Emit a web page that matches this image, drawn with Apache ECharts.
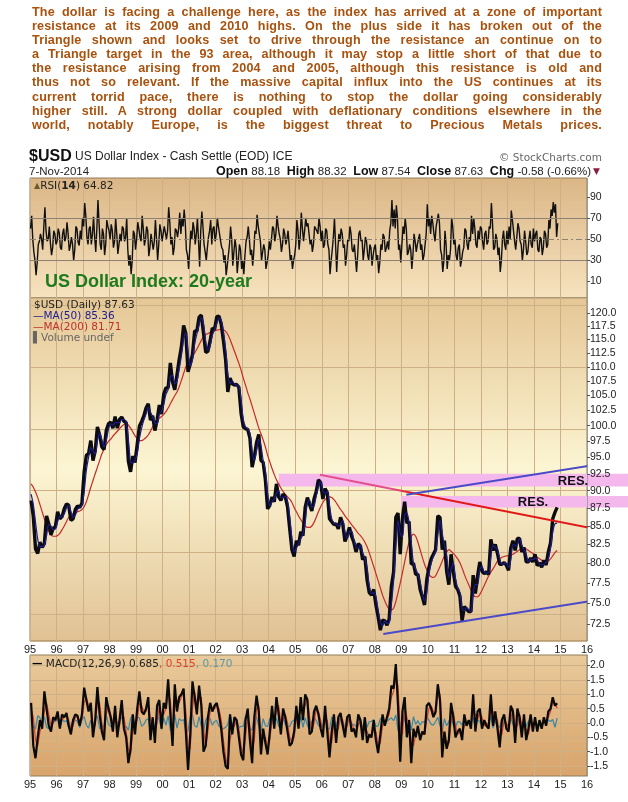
<!DOCTYPE html>
<html><head><meta charset="utf-8">
<script src="https://cdn.jsdelivr.net/npm/echarts@6/dist/echarts.min.js"></script>
<style>
html,body{margin:0;padding:0;background:#fff;}
#wrap{position:relative;width:628px;height:802px;overflow:hidden;}
#chart{position:absolute;left:0;top:0;width:628px;height:802px;}
#para{position:absolute;left:32px;top:5px;width:570px;font-family:"Liberation Sans",Arial,sans-serif;font-weight:bold;font-size:12.6px;color:#a8520e;z-index:2;letter-spacing:0.15px;}
#para div{text-align:justify;text-align-last:justify;line-height:14.1px;height:14.1px;overflow:hidden;}
</style></head>
<body><div id="wrap"><div id="chart"></div><div id="para"></div></div>
<script>
// ---------- text ----------
const paragraphLines = [
  "The dollar is facing a challenge here, as the index has arrived at a zone of important",
  "resistance at its 2009 and 2010 highs. On the plus side it has broken out of the",
  "Triangle shown and looks set to drive through the resistance an continue on to",
  "a Triangle target in the 93 area, although it may stop a little short of that due to",
  "the resistance arising from 2004 and 2005, although this resistance is old and",
  "thus not so relevant. If the massive capital influx into the US continues at its",
  "current torrid pace, there is nothing to stop the dollar going considerably",
  "higher still. A strong dollar coupled with deflationary conditions elsewhere in the",
  "world, notably Europe, is the biggest threat to Precious Metals prices."
];

// ---------- data (monthly, Jan 1995 .. Nov 2014) ----------
const startYear = 1995;
const usdClose = [
 88.6,86.3,81.9,81.3,82.8,82.1,82.6,86.4,85.3,83.8,84.7,84.9,
 87.0,86.0,86.3,87.4,88.1,87.9,85.8,86.0,87.3,87.8,87.6,88.2,
 92.8,95.3,95.6,97.6,94.5,96.0,99.8,98.5,96.6,96.2,99.2,100.3,
 100.6,99.6,101.5,99.6,101.0,101.4,100.7,100.5,94.4,92.8,95.2,94.2,
 97.0,99.9,100.7,101.6,102.9,103.6,100.9,101.6,99.2,100.9,103.4,101.9,
 105.2,106.3,106.3,110.7,107.3,106.0,108.6,111.3,113.6,117.6,116.1,109.1,
 110.5,112.2,116.6,116.5,119.2,119.6,116.2,112.6,112.8,114.7,117.1,116.8,
 119.3,119.4,117.9,114.8,111.3,105.6,108.0,107.0,106.8,106.9,106.4,102.0,
 99.8,99.5,99.4,98.0,93.5,95.1,97.3,98.6,94.5,94.2,91.6,87.4,
 87.9,89.1,88.4,91.0,89.1,88.6,89.5,89.1,87.7,84.6,81.8,80.9,
 83.0,82.4,84.2,83.7,87.6,89.0,88.0,87.1,88.8,89.9,91.6,91.2,
 88.8,90.3,89.7,86.0,85.6,85.2,85.3,84.6,86.2,85.3,82.9,83.7,
 84.8,83.6,82.8,81.5,82.6,82.3,80.5,80.9,77.9,76.3,76.0,76.7,
 74.8,73.4,71.8,73.0,72.9,72.4,73.1,77.1,78.9,86.2,86.8,81.2,
 86.0,88.4,85.4,85.6,79.9,80.0,78.6,78.6,76.7,75.8,74.8,77.9,
 79.5,80.6,81.2,81.8,86.4,86.2,81.8,83.0,79.0,77.3,81.2,79.0,
 77.1,76.7,75.9,72.9,74.6,74.3,74.0,74.0,78.5,76.2,78.4,80.2,
 79.0,78.7,78.9,78.6,83.2,81.7,82.5,81.3,79.9,79.9,80.1,79.8,
 79.1,82.0,83.0,81.7,83.3,83.3,81.5,82.1,80.2,80.2,80.7,80.2,
 81.2,79.7,80.1,79.5,80.4,79.8,81.5,82.7,86.0,86.9,87.6
];
const ma50 = [
 89.5,88.0,85.5,83.2,82.2,82.2,82.4,83.7,85.2,85.0,84.5,84.6,
 85.6,86.3,86.3,86.7,87.5,87.9,87.0,86.2,86.5,87.3,87.6,87.9,
 89.8,93.0,95.0,96.5,96.0,95.5,97.6,98.8,97.8,96.6,97.6,99.4,
 100.3,100.1,100.5,100.5,100.5,101.0,101.0,100.6,97.8,94.3,94.1,94.6,
 95.5,97.9,99.6,100.9,101.9,103.0,102.2,101.5,100.5,100.3,101.8,102.4,
 103.5,105.2,106.0,108.2,108.5,107.0,107.5,109.6,112.0,115.0,116.2,112.8,
 110.2,111.2,114.2,116.0,117.8,119.1,117.9,114.6,113.0,113.8,115.8,116.8,
 118.0,119.0,118.6,116.5,113.2,108.8,107.0,107.5,107.0,106.8,106.6,104.3,
 101.0,99.8,99.5,98.8,96.0,94.5,96.0,97.8,96.8,94.5,93.0,89.6,
 87.8,88.4,88.8,89.6,90.0,89.0,89.0,89.2,88.5,86.3,83.3,81.5,
 82.0,82.6,83.3,83.9,85.5,88.2,88.6,87.6,87.8,89.2,90.6,91.3,
 90.0,89.6,89.9,87.9,86.0,85.4,85.3,85.0,85.3,85.7,84.2,83.3,
 84.2,84.3,83.2,82.2,82.0,82.4,81.4,80.7,79.5,77.2,76.2,76.3,
 75.8,74.2,72.8,72.3,72.9,72.6,72.7,74.9,77.8,82.2,85.7,84.0,
 83.5,86.5,86.8,85.5,82.8,80.0,79.3,78.6,77.7,76.2,75.3,76.3,
 78.6,80.0,80.9,81.5,83.8,85.8,84.0,82.4,81.0,78.2,79.2,80.1,
 78.1,76.9,76.3,74.4,74.1,74.5,74.2,74.0,76.2,77.3,77.3,79.2,
 79.6,78.9,78.8,78.8,80.9,82.4,82.1,81.9,80.6,79.9,80.0,80.0,
 79.5,80.5,82.5,82.3,82.5,83.3,82.4,81.8,81.2,80.2,80.5,80.5,
 80.7,80.5,79.9,79.8,79.9,80.1,80.6,82.0,84.2,85.3,85.4
];
const ma200 = [
 91.0,90.5,89.8,89.0,88.0,87.0,86.0,85.0,84.3,83.8,83.6,83.6,
 83.7,84.0,84.5,85.0,85.6,86.2,86.5,86.7,86.8,87.0,87.1,87.3,
 87.7,88.4,89.4,90.5,91.5,92.5,93.5,94.5,95.5,96.3,97.0,97.5,
 97.8,98.3,98.7,99.1,99.5,99.9,100.2,100.4,100.1,99.6,99.0,98.4,
 97.9,97.6,97.6,97.8,98.1,98.5,99.1,99.8,100.4,100.8,101.2,101.5,
 101.8,102.3,102.9,103.6,104.3,105.0,105.6,106.5,107.6,108.8,110.0,110.8,
 111.4,111.9,112.5,113.2,114.0,114.8,115.5,115.9,116.1,116.3,116.5,116.6,
 116.7,116.8,116.9,116.8,116.5,115.9,115.0,113.9,112.8,111.7,110.6,109.4,
 108.0,106.8,105.5,104.4,103.2,102.0,100.8,99.6,98.7,97.7,96.6,95.3,
 94.3,93.3,92.4,91.6,91.0,90.4,89.9,89.5,89.1,88.8,88.3,87.6,
 87.0,86.4,85.9,85.4,85.0,84.8,84.8,85.0,85.5,86.2,87.0,87.7,
 88.3,88.7,89.0,89.1,89.0,88.7,88.3,87.8,87.3,86.9,86.4,86.0,
 85.6,85.2,84.8,84.4,84.0,83.7,83.3,82.8,82.2,81.4,80.5,79.6,
 78.7,77.8,76.9,76.0,75.3,74.7,74.3,74.2,74.4,75.2,76.3,77.5,
 78.8,80.2,81.6,82.8,83.6,83.9,83.6,82.8,81.8,80.8,79.9,79.2,
 78.6,78.3,78.2,78.4,79.0,79.6,80.3,81.0,81.5,81.8,81.6,81.3,
 81.0,80.6,80.1,79.4,78.6,77.9,77.3,76.6,76.1,75.8,75.8,76.1,
 76.6,77.2,77.8,78.4,78.9,79.3,79.8,80.3,80.6,80.8,80.9,81.0,
 81.0,81.1,81.2,81.4,81.6,81.8,81.9,82.0,81.9,81.7,81.5,81.3,
 81.0,80.8,80.6,80.4,80.3,80.2,80.3,80.6,81.0,81.4,81.7
];
// RSI sampled twice a month: early-month and late-month readings
const rsiEarly = [
 60,50,30,28,48,50,62,58,50,46,42,55,
 48,56,40,60,52,55,44,45,40,60,44,50,
 62,72,45,62,55,52,60,65,40,55,45,62,
 50,58,48,55,45,48,60,52,40,35,30,55,
 50,60,48,60,50,58,42,55,48,50,45,58,
 48,62,58,66,52,42,58,60,55,62,65,35,
 40,50,60,55,48,58,62,38,42,58,45,62,
 55,62,48,40,35,25,45,50,38,42,30,40,
 30,35,52,50,40,38,55,62,48,38,40,28,
 48,50,60,55,62,50,45,55,50,45,35,30,
 45,58,52,60,58,62,55,50,45,60,55,62,
 58,45,58,40,30,52,45,40,48,55,45,35,
 48,55,38,45,35,58,50,40,48,30,42,35,
 45,35,28,40,52,42,40,65,62,60,70,45,
 45,55,60,38,40,35,48,45,55,45,35,55,
 62,55,65,48,68,65,35,30,45,35,40,62,
 50,30,45,30,42,58,40,48,55,60,42,50,
 60,40,58,48,60,65,42,50,42,30,58,40,
 45,50,68,48,52,60,45,40,48,38,58,42,
 48,58,38,50,42,55,45,60,72,75,52
];
const rsiLate = [
 72,38,16,45,55,40,80,48,62,35,58,45,
 60,42,55,48,66,39,52,30,62,47,58,70,
 84,52,60,45,71,38,87,45,60,35,68,58,
 64,42,70,36,55,62,48,70,25,17,58,40,
 66,52,72,44,62,34,55,40,68,30,64,48,
 62,50,80,45,35,60,52,75,70,78,40,22,
 58,66,45,70,24,76,45,30,52,68,60,48,
 70,55,42,28,16,35,62,25,50,18,45,22,
 17,48,62,35,25,58,73,55,30,45,22,35,
 40,62,48,72,55,38,60,45,58,30,22,35,
 68,40,75,48,70,65,45,38,62,58,70,48,
 42,60,45,17,40,70,19,55,60,42,25,50,
 62,40,45,19,55,48,30,52,35,45,25,42,
 30,18,45,55,38,48,58,87,78,82,40,28,
 62,70,35,45,22,55,38,50,40,30,45,83,
 70,72,55,62,74,40,19,58,22,30,70,45,
 35,42,24,38,60,45,52,72,70,45,58,62,
 48,55,45,62,84,40,55,35,19,50,45,58,
 62,77,58,40,65,48,30,58,35,50,45,60,
 55,40,52,35,58,42,68,78,85,83,65
];
const macdLine = [
 0.70,-0.8,-1.23,-0.5,0.1,-0.2,1.1,0.5,-0.1,-0.3,0.2,0.1,
 0.4,-0.2,0.3,0.2,0.35,-0.1,-0.4,0.1,0.3,0.25,-0.1,0.3,
 1.23,0.8,0.4,0.7,-0.5,0.1,1.25,0.3,-0.3,-0.6,0.9,0.5,
 0.2,-0.3,0.6,-0.5,0.1,0.8,-0.2,-0.5,-1.4,-0.9,0.3,-0.4,
 0.5,1.1,0.4,0.3,0.5,0.9,-0.6,0.2,-0.7,0.6,0.8,-0.2,
 0.7,0.5,1.52,0.3,-0.8,1.35,0.4,0.9,1.0,1.2,-0.3,-1.64,
 -0.4,1.45,0.9,0.3,1.3,0.6,-1.0,-0.8,0.2,0.7,0.4,0.6,
 0.7,0.3,-0.2,-1.0,-1.5,-1.6,0.3,-0.4,0.2,0.1,-0.5,-1.1,
 -1.3,0.1,0.5,-0.6,-1.4,0.2,0.95,0.4,-1.1,-0.2,-0.7,-1.1,
 -0.3,0.6,-0.2,0.9,0.3,-0.4,0.5,0.2,-0.3,-0.8,-0.7,-0.3,
 0.6,-0.2,0.9,0.1,1.0,0.8,-0.4,-0.3,0.4,0.6,0.3,-0.2,
 -0.5,0.6,-0.3,-1.2,-0.3,0.3,-0.7,0.2,0.35,-0.1,-0.5,0.2,
 0.3,-0.3,-0.2,-0.5,0.3,0.1,-0.6,0.2,-0.7,-0.4,-0.5,0.1,
 -0.6,-1.05,-0.4,0.3,-0.1,0.2,0.5,1.3,1.2,2.05,0.6,-1.35,
 0.4,0.9,-0.5,0.1,-1.4,-0.2,-0.5,-0.1,-0.6,-0.3,-0.4,0.6,
 0.7,0.5,0.2,0.4,1.35,0.8,-1.2,-0.3,-0.9,-0.6,0.7,0.2,
 -0.5,-0.3,-0.2,-0.6,0.3,-0.1,0.1,-0.2,1.0,-0.3,0.4,0.5,
 -0.2,0.1,-0.1,-0.2,1.0,-0.1,0.4,-0.2,-0.85,0.1,0.3,-0.2,
 -0.3,0.6,0.4,-0.7,0.5,0.2,-0.5,0.3,-0.6,-0.2,0.3,-0.3,
 0.2,-0.3,0.1,-0.2,0.2,-0.1,0.4,0.5,0.9,0.6,0.685
];
const macdSignal = [
 0.5,0.2,-0.6,-0.8,-0.3,-0.1,0.4,0.7,0.3,-0.1,0.0,0.1,
 0.2,0.1,0.1,0.2,0.3,0.1,-0.2,-0.1,0.2,0.2,0.1,0.1,
 0.7,0.9,0.6,0.6,0.0,-0.1,0.7,0.7,0.0,-0.4,0.3,0.6,
 0.3,0.0,0.2,0.0,-0.1,0.4,0.2,-0.3,-0.9,-1.1,-0.3,-0.1,
 0.1,0.7,0.6,0.4,0.4,0.7,0.1,0.0,-0.3,0.0,0.6,0.3,
 0.3,0.5,1.0,0.8,-0.2,0.5,0.8,0.7,0.9,1.1,0.4,-0.9,
 -0.9,0.5,1.1,0.6,0.8,0.9,-0.2,-0.8,-0.3,0.4,0.5,0.5,
 0.6,0.5,0.1,-0.6,-1.2,-1.5,-0.6,-0.2,-0.1,0.1,-0.2,-0.8,
 -1.1,-0.5,0.2,-0.1,-0.9,-0.6,0.5,0.6,-0.4,-0.5,-0.5,-0.9,
 -0.6,0.1,0.1,0.4,0.6,0.0,0.1,0.3,0.0,-0.5,-0.7,-0.5,
 0.1,0.2,0.4,0.5,0.6,0.9,0.2,-0.3,0.0,0.5,0.4,0.1,
 -0.3,0.1,0.1,-0.7,-0.7,0.0,-0.3,-0.2,0.2,0.1,-0.3,-0.1,
 0.2,0.0,-0.2,-0.3,-0.1,0.1,-0.2,-0.2,-0.3,-0.5,-0.5,-0.2,
 -0.3,-0.8,-0.7,-0.1,0.1,0.1,0.3,0.9,1.1,1.6,1.3,-0.3,
 -0.4,0.6,0.2,-0.1,-0.7,-0.8,-0.4,-0.3,-0.4,-0.4,-0.4,0.1,
 0.5,0.6,0.4,0.3,0.9,1.0,-0.2,-0.7,-0.6,-0.7,0.0,0.4,
 -0.1,-0.4,-0.3,-0.4,-0.1,0.0,0.0,-0.1,0.4,0.3,0.1,0.4,
 0.2,-0.1,0.0,-0.1,0.4,0.4,0.2,0.1,-0.5,-0.4,0.1,0.0,
 -0.2,0.1,0.5,-0.1,-0.1,0.3,-0.1,-0.1,-0.2,-0.4,0.0,0.0,
 0.0,-0.1,0.0,-0.1,0.0,0.0,0.2,0.4,0.7,0.7,0.515
];
const macdHist = [
 0.12,-0.15,-0.2,0.25,0.18,-0.1,0.22,-0.15,-0.2,-0.12,0.15,0.05,
 0.14,-0.18,0.1,0.05,0.08,-0.15,-0.12,0.15,0.1,0.04,-0.16,0.12,
 0.22,-0.08,-0.18,0.1,-0.25,0.15,0.25,-0.2,-0.15,-0.1,0.28,-0.05,
 -0.12,-0.15,0.2,-0.22,0.12,0.2,-0.18,-0.12,-0.25,0.15,0.28,-0.15,
 0.2,0.18,-0.12,-0.05,0.1,0.15,-0.3,0.12,-0.2,0.28,0.12,-0.22,
 0.18,-0.08,0.25,-0.25,-0.3,0.3,-0.18,0.15,0.08,0.12,-0.3,-0.28,
 0.22,0.3,-0.1,-0.15,0.22,-0.12,-0.3,0.1,0.22,0.15,-0.08,0.05,
 0.08,-0.12,-0.15,-0.2,-0.15,-0.05,0.3,-0.1,0.15,0.05,-0.15,-0.12,
 -0.12,0.25,0.15,-0.2,-0.25,0.3,0.2,-0.1,-0.3,0.15,-0.1,-0.12,
 0.15,0.22,-0.15,0.18,-0.12,-0.18,0.2,-0.05,-0.15,-0.12,0.05,0.1,
 0.25,-0.18,0.22,-0.15,0.18,-0.08,-0.25,0.05,0.2,0.08,-0.08,-0.15,
 -0.1,0.22,-0.18,-0.22,0.2,0.15,-0.15,0.18,0.1,-0.12,-0.1,0.12,
 0.1,-0.1,-0.05,-0.12,0.18,-0.05,-0.15,0.18,-0.15,0.05,0.05,0.12,
 -0.12,-0.1,0.15,0.2,-0.08,0.06,0.12,0.18,0.08,0.28,-0.25,-0.3,
 0.3,0.15,-0.25,0.12,-0.25,0.22,-0.05,0.08,-0.08,0.05,0.02,0.2,
 0.1,-0.05,-0.08,0.05,0.2,-0.1,-0.3,0.15,-0.1,0.05,0.25,-0.08,
 -0.15,0.05,0.04,-0.08,0.15,-0.05,0.04,-0.04,0.2,-0.18,0.1,0.05,
 -0.12,0.08,-0.04,-0.05,0.22,-0.18,0.08,-0.1,-0.15,0.15,0.08,-0.08,
 -0.05,0.18,-0.04,-0.22,0.2,-0.05,-0.15,0.12,-0.12,0.06,0.1,-0.1,
 0.08,-0.08,0.05,-0.04,0.08,-0.05,0.1,0.05,0.12,-0.15,0.17
];
// axis ticks
const priceTicks = [72.5,75,77.5,80,82.5,85,87.5,90,92.5,95,97.5,100,102.5,105,107.5,110,112.5,115,117.5,120];
const rsiTicks = [10,30,50,70,90];
const macdTicks = [-1.5,-1,-0.5,0,0.5,1,1.5,2];
// analyst annotations (year, price)
const resZones = [[2004.38, 90.6, 92.5], [2008.99, 87.6, 89.25]];
const annotationEnd = 2017.6;
const triangleTop = [[2005.93, 92.35], [2017.6, 83.67]];
const channelTop = [[2009.19, 89.4], [2017.6, 94.69]];
const channelBottom = [[2008.32, 71.36], [2017.6, 76.03]];

// ---------- paragraph ----------
const para = document.getElementById('para');
paragraphLines.forEach(t => {
  const d = document.createElement('div');
  d.textContent = t;
  para.appendChild(d);
  d.style.whiteSpace = 'nowrap';
  let fs = 12.6;
  while (d.scrollWidth > 570 && fs > 10) { fs -= 0.1; d.style.fontSize = fs + 'px'; }
  d.style.whiteSpace = 'normal';
});

// ---------- chart ----------
const dates = usdClose.map((_, i) => startYear + (i + 0.5) / 12);
const L = Math.log;
const pair = (arr, f) => arr.map((v, i) => [dates[i], f ? f(v) : v]);
const rsiData = [];
rsiEarly.forEach((v, i) => {
  rsiData.push([startYear + (i + 0.25) / 12, v]);
  rsiData.push([startYear + (i + 0.75) / 12, rsiLate[i]]);
});

const FONT = '"Liberation Sans", Arial, sans-serif';
const gridCol = '#cdb085';
const grids = [
  {left: 30, right: 41, top: 178, height: 120},
  {left: 30, right: 41, top: 298, height: 343},
  {left: 30, right: 41, top: 655, height: 121}
];
const bgs = [
  {type:'linear',x:0,y:0,x2:0,y2:1,colorStops:[{offset:0,color:'#dbb686'},{offset:1,color:'#f6e3bf'}]},
  {type:'linear',x:0,y:0,x2:0,y2:1,colorStops:[{offset:0,color:'#e5c796'},{offset:0.5,color:'#fcf5d3'},{offset:1,color:'#e0c193'}]},
  {type:'linear',x:0,y:0,x2:0,y2:1,colorStops:[{offset:0,color:'#e9ca9b'},{offset:1,color:'#d8a46b'}]}
];
grids.forEach((g, i) => { g.show = true; g.backgroundColor = bgs[i]; g.borderColor = '#8f7c5c'; g.borderWidth = 1; });

function xAxis(gi, showLabel) {
  return {
    type: 'value', gridIndex: gi, min: 1995, max: 2016, interval: 1,
    axisLine: {show: false}, axisTick: {show: false},
    axisLabel: {show: showLabel, formatter: v => String(v).slice(2), fontFamily: FONT, fontSize: 11, color: '#222', margin: 3},
    splitLine: {show: true, lineStyle: {color: gridCol, width: 1}}
  };
}
function yAxis(gi, min, max, ticks, fmt, opts) {
  return Object.assign({
    type: 'value', gridIndex: gi, position: 'right', min: min, max: max,
    axisLine: {show: true, lineStyle: {color: '#999', type: 'dotted'}},
    axisTick: {show: true, length: 3, customValues: ticks, lineStyle: {color: '#555'}},
    axisLabel: {show: true, customValues: ticks, formatter: fmt, fontFamily: FONT, fontSize: 10.5, color: '#222', margin: 3},
    splitLine: {show: false}
  }, opts || {});
}
const priceTicksL = priceTicks.map(v => L(v));
const yMinP = L(70.56), yMaxP = L(122.96);

const option = {
  animation: false,
  grid: grids,
  xAxis: [xAxis(0, false), xAxis(1, true), xAxis(2, true)],
  yAxis: [
    yAxis(0, -5.5, 107.7, rsiTicks, v => String(v)),
    yAxis(1, yMinP, yMaxP, priceTicksL, v => '', {axisLine:{show:false}, axisTick:{show:false}, axisLabel:{show:false, customValues: priceTicksL},
      splitLine: {show: true, lineStyle: {color: gridCol, width: 1}}}),
    yAxis(2, -1.85, 2.37, macdTicks, v => v.toFixed(1), {splitLine: {show: true, lineStyle: {color: gridCol}}}),
    yAxis(1, yMinP, yMaxP, priceTicksL, v => Math.exp(v).toFixed(1), {z: 10})
  ],
  series: [
    {type: 'line', xAxisIndex: 0, yAxisIndex: 0, data: rsiData, symbol: 'none',
      lineStyle: {color: '#111', width: 1.4}, z: 3,
      markLine: {silent: true, symbol: 'none', label: {show: false}, animation: false,
        data: [
          {yAxis: 70, lineStyle: {color: '#8c8172', width: 1.2, type: 'solid'}},
          {yAxis: 30, lineStyle: {color: '#8c8172', width: 1.2, type: 'solid'}},
          {yAxis: 50, lineStyle: {color: '#8c8172', width: 1, type: [6, 3, 2, 3]}}
        ]}},
    {type: 'custom', xAxisIndex: 1, yAxisIndex: 1, clip: false, z: 1,
      data: resZones.map(z => [z[0], annotationEnd, L(z[1]), L(z[2])]),
      renderItem: (params, api) => {
        const p0 = api.coord([api.value(0), api.value(3)]);
        const p1 = api.coord([api.value(1), api.value(2)]);
        return {type: 'rect', shape: {x: p0[0], y: p0[1], width: p1[0] - p0[0], height: p1[1] - p0[1]},
          style: {fill: '#f4b8ec'}};
      }},
    {type: 'line', xAxisIndex: 1, yAxisIndex: 1, data: pair(ma200, L), symbol: 'none', smooth: 0.3,
      lineStyle: {color: '#c62a2a', width: 1.2}, z: 3},
    {type: 'line', xAxisIndex: 1, yAxisIndex: 1, data: pair(usdClose, L), symbol: 'none',
      lineStyle: {color: '#0b0b10', width: 3.4}, z: 4},
    {type: 'line', xAxisIndex: 1, yAxisIndex: 1, data: pair(ma50, L), symbol: 'none', smooth: 0.3,
      lineStyle: {color: '#1c1c8c', width: 1.2}, z: 5},
    {type: 'line', xAxisIndex: 1, yAxisIndex: 1, clip: false, data: triangleTop.map(p => [p[0], L(p[1])]), symbol: 'none',
      lineStyle: {width: 2, color: {type: 'linear', x: 0, y: 0, x2: 1, y2: 0,
        colorStops: [{offset: 0, color: '#e2508c'}, {offset: 0.24, color: '#e2508c'}, {offset: 0.3, color: '#e01818'}, {offset: 1, color: '#e01818'}]}}, z: 6},
    {type: 'line', xAxisIndex: 1, yAxisIndex: 1, clip: false, data: channelTop.map(p => [p[0], L(p[1])]), symbol: 'none',
      lineStyle: {color: '#4a4ac8', width: 2}, z: 6},
    {type: 'line', xAxisIndex: 1, yAxisIndex: 1, clip: false, data: channelBottom.map(p => [p[0], L(p[1])]), symbol: 'none',
      lineStyle: {color: '#4a4ac8', width: 2}, z: 6},
    {type: 'line', xAxisIndex: 2, yAxisIndex: 2, data: pair(macdHist), symbol: 'none',
      lineStyle: {color: '#3b87a6', width: 1.2}, z: 3},
    {type: 'line', xAxisIndex: 2, yAxisIndex: 2, data: pair(macdSignal), symbol: 'none',
      lineStyle: {color: '#d8402c', width: 1.2}, z: 4},
    {type: 'line', xAxisIndex: 2, yAxisIndex: 2, data: pair(macdLine), symbol: 'none',
      lineStyle: {color: '#0a0a0a', width: 2.2}, z: 5}
  ],
  graphic: [
    {type: 'text', x: 29, y: 157, z: 20, style: {text: '{a|$USD} {b|US Dollar Index - Cash Settle (EOD) ICE}', verticalAlign: 'middle',
      rich: {a: {fontFamily: FONT, fontSize: 16, fontWeight: 'bold', fill: '#111'}, b: {fontFamily: FONT, fontSize: 12, fill: '#222'}}}},
    {type: 'text', x: 602, y: 158, z: 20, style: {text: '\u00A9 StockCharts.com', align: 'right', verticalAlign: 'middle', font: '10.5px "DejaVu Sans", sans-serif', fill: '#666'}},
    {type: 'text', x: 29, y: 172, z: 20, style: {text: '7-Nov-2014', verticalAlign: 'middle', font: '11.5px ' + FONT, fill: '#222'}},
    {type: 'text', x: 591, y: 172, z: 20, style: {text: '{b|Open} {n|88.18}  {b|High} {n|88.32}  {b|Low} {n|87.54}  {b|Close} {n|87.63}  {b|Chg} {n|-0.58 (-0.66%)}', align: 'right', verticalAlign: 'middle',
      rich: {b: {fontFamily: FONT, fontSize: 12.5, fontWeight: 'bold', fill: '#111'}, n: {fontFamily: FONT, fontSize: 11.5, fill: '#222'}}}},
    {type: 'text', x: 593, y: 172, z: 20, style: {text: '\u25BC', verticalAlign: 'middle', font: '9px "DejaVu Sans", sans-serif', fill: '#8b1c3c'}},
    {type: 'text', x: 34, y: 186, z: 20, style: {text: '{i|\u25B2}{t|RSI(}{k|14}{t|) 64.82}', verticalAlign: 'middle',
      rich: {i: {fontSize: 8, fill: '#6b5a2a', fontFamily: '"DejaVu Sans"'}, t: {fontFamily: '"DejaVu Sans", sans-serif', fontSize: 10.5, fill: '#222'}, k: {fontFamily: '"DejaVu Sans", sans-serif', fontSize: 10.5, fontWeight: 'bold', fill: '#222'}}}},
    {type: 'text', x: 45, y: 282, z: 20, style: {text: 'US Dollar Index: 20-year', verticalAlign: 'middle', font: 'bold 18px ' + FONT, fill: '#1d7a1d'}},
    {type: 'text', x: 34, y: 305, z: 20, style: {text: '$USD (Daily) 87.63', verticalAlign: 'middle', font: '10.5px "DejaVu Sans", sans-serif', fill: '#222'}},
    {type: 'text', x: 33, y: 316, z: 20, style: {text: '\u2014MA(50) 85.36', verticalAlign: 'middle', font: '10.5px "DejaVu Sans", sans-serif', fill: '#1c1c8c'}},
    {type: 'text', x: 33, y: 327, z: 20, style: {text: '\u2014MA(200) 81.71', verticalAlign: 'middle', font: '10.5px "DejaVu Sans", sans-serif', fill: '#c0302a'}},
    {type: 'text', x: 33, y: 338, z: 20, style: {text: '\u258CVolume undef', verticalAlign: 'middle', font: '10.5px "DejaVu Sans", sans-serif', fill: '#666'}},
    {type: 'text', x: 573, y: 481, z: 20, style: {text: 'RES.', align: 'center', verticalAlign: 'middle', font: 'bold 13px ' + FONT, fill: '#111'}},
    {type: 'text', x: 533, y: 502, z: 20, style: {text: 'RES.', align: 'center', verticalAlign: 'middle', font: 'bold 13px ' + FONT, fill: '#111'}},
    {type: 'text', x: 32, y: 664, z: 20, style: {text: '{k|\u2014} {t|MACD(12,26,9) 0.685}{r|, 0.515}{g|, 0.170}', verticalAlign: 'middle',
      rich: {k: {fontFamily: '"DejaVu Sans"', fontSize: 10.5, fontWeight: 'bold', fill: '#000'}, t: {fontFamily: '"DejaVu Sans", sans-serif', fontSize: 10.5, fill: '#222'},
        r: {fontFamily: '"DejaVu Sans", sans-serif', fontSize: 10.5, fill: '#e0402a'}, g: {fontFamily: '"DejaVu Sans", sans-serif', fontSize: 10.5, fill: '#5a9aa8'}}}}
  ]
};
const chart = echarts.init(document.getElementById('chart'), null, {renderer: 'canvas'});
chart.setOption(option);
</script>
</body></html>
